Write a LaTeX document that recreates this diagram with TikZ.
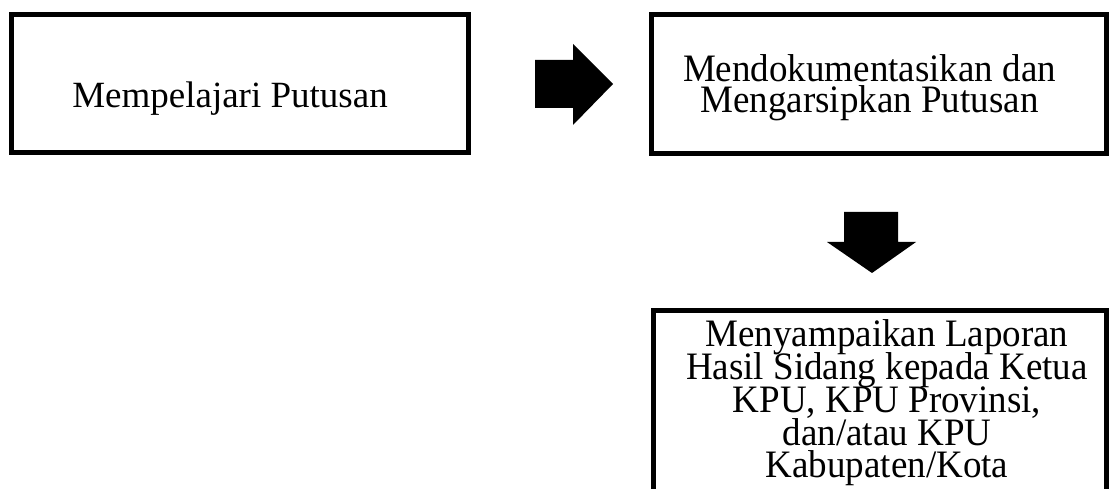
\documentclass[tikz,border=0pt]{standalone}
\usepackage{fontspec}
\setmainfont{Liberation Serif}
\newcommand{\vsq}[2]{\scalebox{1}[#1]{#2}}
\begin{document}
\begin{tikzpicture}[x=1pt,y=-1pt,
  box/.style={draw=black,line width=5pt,inner sep=0pt,rectangle},
  txt/.style={inner sep=0pt,anchor=base,font=\fontsize{37}{32}\selectfont},
  blockarrow/.style={fill=black}]
\useasboundingbox (0,0) rectangle (1109,489);
\clip (0,0) rectangle (1109,489);
% boxes
\node[box,minimum width=457pt,minimum height=138pt] (b1) at (240,83.5) {};
\node[box,minimum width=455pt,minimum height=139pt] (b2) at (879,84) {};
\node[box,minimum width=453pt,minimum height=219.5pt] (b3) at (880,420.25) {};
% texts
\node[txt] (t1) at (230,108) {Mempelajari Putusan};
\node[txt] (t2a) at (869.5,82) {\vsq{1.05}{Mendokumentasikan dan}};
\node[txt] (t2b) at (869.5,113) {\vsq{1.05}{Mengarsipkan Putusan}};
\node[txt] (t3a) at (887,346) {\vsq{1.05}{Menyampaikan Laporan}};
\node[txt] (t3b) at (887,379) {\vsq{1.05}{Hasil Sidang kepada Ketua}};
\node[txt] (t3c) at (887,412) {\vsq{1.05}{KPU, KPU Provinsi,}};
\node[txt] (t3d) at (887,445) {\vsq{1.05}{dan/atau KPU}};
\node[txt] (t3e) at (887,477) {\vsq{1.05}{Kabupaten/Kota}};
% block arrows
\fill[blockarrow] (535,60) -- (573,60) -- (573,44) -- (613,84) -- (573,125) -- (573,108) -- (535,108) -- cycle;
\fill[blockarrow] (844,212) -- (898,212) -- (898,242) -- (916,242) -- (872,273) -- (827,242) -- (844,242) -- cycle;
\end{tikzpicture}
\end{document}
